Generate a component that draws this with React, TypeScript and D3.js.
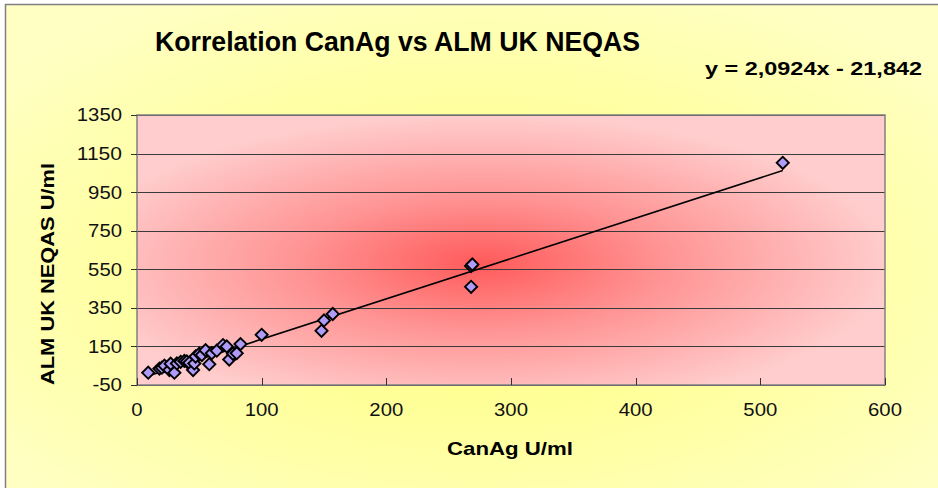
import React from "react";
import * as d3 from "d3";

const W = 938;
const H = 488;

const canAg = [9, 18, 20, 22, 26, 27, 30, 32, 35, 38, 40, 42, 45, 46, 47, 50, 52, 55, 58, 60, 64, 69, 72, 74, 77, 80, 83, 100, 148, 150, 157, 268, 268, 269, 518];
const almUk = [14, 35, 40, 50, 28, 60, 14, 62, 70, 75, 72, 65, 28, 62, 98, 112, 105, 130, 58, 115, 128, 157, 150, 82, 112, 115, 162, 210, 231, 285, 318, 459, 567, 575, 1102];
const xTicks = [0, 100, 200, 300, 400, 500, 600];
const yTicks = [-50, 150, 350, 550, 750, 950, 1150, 1350];
const slope = 2.0924;
const intercept = -21.842;
const titleText = "Korrelation CanAg vs ALM UK NEQAS";
const eqText = "y = 2,0924x - 21,842";
const xTitle = "CanAg U/ml";
const yTitle = "ALM UK NEQAS U/ml";

const plot = { left: 137, right: 885, top: 115, bottom: 385 };

function labelWidth(s: string) {
  let w = 0;
  for (const c of s) w += c === "-" ? 7 : 11.3;
  return w;
}

export default function App() {
  const x = d3.scaleLinear().domain([0, 600]).range([plot.left, plot.right]);
  const y = d3.scaleLinear().domain([-50, 1350]).range([plot.bottom, plot.top]);
  const pts = canAg.map((v, i) => ({ x: v, y: almUk[i] }));
  const xmin = d3.min(canAg) as number;
  const xmax = d3.max(canAg) as number;
  const line = d3.line<number>().x((d) => x(d)).y((d) => y(slope * d + intercept));
  const diamond = d3.symbol().type(d3.symbolSquare).size(74)() as string;
  const font = "'Liberation Sans', Arial, sans-serif";

  return (
    <svg width={W} height={H} style={{ position: "absolute", left: 0, top: 0 }} fontFamily={font}>
      <defs>
        <radialGradient id="bgY" cx="0.5" cy="0.55" r="0.65">
          <stop offset="0" stopColor="#FFFF78" />
          <stop offset="1" stopColor="#FFFFC4" />
        </radialGradient>
        <radialGradient id="bgP" cx="0.46" cy="0.55" r="0.55">
          <stop offset="0" stopColor="#FF5A5A" />
          <stop offset="0.45" stopColor="#FF9494" />
          <stop offset="1" stopColor="#FFCDCD" />
        </radialGradient>
      </defs>
      <rect x={0} y={0} width={W} height={H} fill="#FFFFFF" />
      <rect x={5.5} y={4.5} width={W} height={H} fill="url(#bgY)" stroke="#808080" strokeWidth={1.5} />
      <rect x={plot.left} y={plot.top} width={plot.right - plot.left} height={plot.bottom - plot.top} fill="url(#bgP)" />
      {yTicks.map((t) => (
        <line key={"g" + t} x1={plot.left} x2={plot.right} y1={Math.round(y(t)) + 0.5} y2={Math.round(y(t)) + 0.5} stroke="#3a3a3a" strokeWidth={1} />
      ))}
      <rect x={plot.left} y={plot.top} width={plot.right - plot.left} height={plot.bottom - plot.top} fill="none" stroke="#808080" strokeWidth={1.5} />
      {yTicks.map((t) => (
        <g key={"y" + t}>
          <line x1={plot.left - 6} x2={plot.left} y1={Math.round(y(t)) + 0.5} y2={Math.round(y(t)) + 0.5} stroke="#333" />
          <text x={122} y={y(t)} dy="0.36em" textAnchor="end" fontSize={18} textLength={labelWidth(String(t))} lengthAdjust="spacingAndGlyphs" fill="#111">{t}</text>
        </g>
      ))}
      {xTicks.map((t) => (
        <g key={"x" + t}>
          <line x1={Math.round(x(t)) + 0.5} x2={Math.round(x(t)) + 0.5} y1={plot.bottom - 7} y2={plot.bottom} stroke="#333" />
          <text x={x(t)} y={416} textAnchor="middle" fontSize={18} textLength={labelWidth(String(t))} lengthAdjust="spacingAndGlyphs" fill="#111">{t}</text>
        </g>
      ))}
      <path d={line([xmin, xmax]) as string} stroke="#000" strokeWidth={1.6} fill="none" />
      {pts.map((p, i) => (
        <path key={i} d={diamond} transform={`translate(${x(p.x)},${y(p.y)}) rotate(45)`} fill="#B09CF8" stroke="#000" strokeWidth={1.9} />
      ))}
      <text x={155} y={51} fontSize={28} fontWeight="bold" textLength={485} lengthAdjust="spacingAndGlyphs" fill="#000">{titleText}</text>
      <text x={705} y={75} fontSize={19} fontWeight="bold" textLength={217} lengthAdjust="spacingAndGlyphs" fill="#000">{eqText}</text>
      <text x={510} y={455} textAnchor="middle" fontSize={19} fontWeight="bold" textLength={126} lengthAdjust="spacingAndGlyphs" fill="#000">{xTitle}</text>
      <text transform={`translate(54,274) rotate(-90)`} textAnchor="middle" fontSize={19} fontWeight="bold" textLength={222} lengthAdjust="spacingAndGlyphs" fill="#000">{yTitle}</text>
    </svg>
  );
}
